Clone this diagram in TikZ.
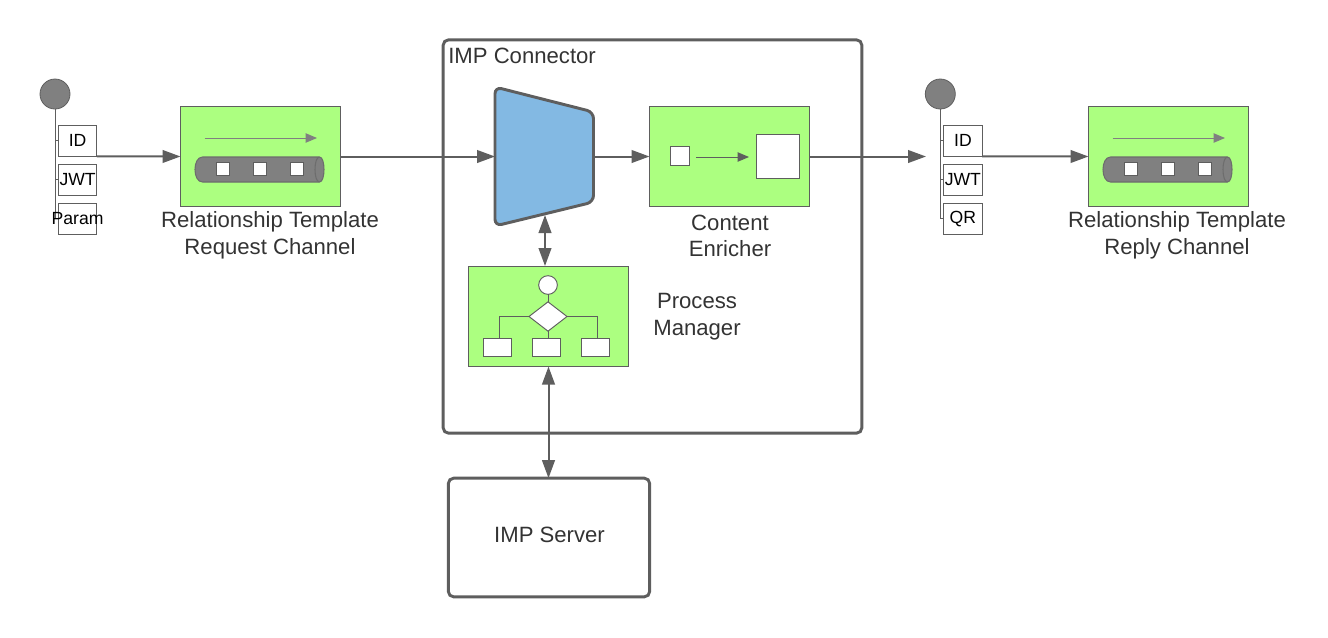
\documentclass[tikz,border=0pt]{standalone}
\usepackage{fontspec}
\setmainfont{Liberation Sans}
\usetikzlibrary{arrows.meta,shapes.geometric}
\definecolor{linegray}{HTML}{5E5E5E}
\definecolor{pipegray}{HTML}{808080}
\definecolor{textgray}{HTML}{333333}
\definecolor{eipgreen}{HTML}{ACFF80}
\definecolor{routerblue}{HTML}{83B9E3}
\tikzset{
  flow/.style={draw=linegray,line width=1.5pt,-{Triangle[length=13.5pt,width=9.5pt]}},
  biflow/.style={draw=linegray,line width=1.5pt,{Triangle[length=13.5pt,width=9.5pt]}-{Triangle[length=13.5pt,width=9.5pt]}},
  eipbox/.style={draw=linegray,line width=.8pt,fill=eipgreen,minimum width=120pt,minimum height=75pt,inner sep=0pt,outer sep=0pt},
  tagbox/.style={draw=linegray,line width=.6pt,fill=white,minimum width=28.8pt,minimum height=23.5pt,inner sep=0pt,outer sep=0pt,font=\fontsize{13.2}{15}\selectfont},
  whitebox/.style={draw=linegray,line width=.7pt,fill=white,inner sep=0pt,outer sep=0pt},
  holder/.style={circle,draw=linegray,line width=.6pt,fill=pipegray,minimum size=22.5pt,inner sep=0pt,outer sep=0pt},
  label/.style={align=center,text=textgray,inner sep=0pt,font=\fontsize{16.6}{20}\selectfont},
  container/.style={draw=linegray,line width=2.2pt,rounded corners=4pt,inner sep=0pt,outer sep=0pt},
  thinline/.style={draw=linegray,line width=.7pt},
}
\begin{document}
\begin{tikzpicture}[x=.75pt,y=-.75pt]
  \useasboundingbox (0,0) rectangle (1328,637);
  % outer boxes
  \node[container,minimum width=314pt,minimum height=295pt] (connector) at (652.5,236.5) {};
  \node[label,anchor=west] (connectorlabel) at (448,56) {IMP Connector};
  \node[container,minimum width=151pt,minimum height=89pt] (server) at (549,537.5) {};
  \node[label] (serverlabel) at (549.5,535) {IMP Server};
  % channels
  \foreach \chan/\cx in {req/260.5,rep/1168.5} {
    \begin{scope}[shift={(\cx,156.5)}]
      \node[eipbox] (\chan box) at (0,0) {};
      \draw[draw=pipegray,line width=.7pt,-{Triangle[length=8.5pt,width=7pt]}] (-56,-18.5) -- (56.5,-18.5);
      \draw[draw=pipegray!85!black,fill=pipegray,line width=.8pt]
        (-58,.5) -- (59,.5) .. controls (65,.5) and (65,25.5) .. (59,25.5)
        -- (-58,25.5) .. controls (-68,25.5) and (-68,.5) .. (-58,.5) -- cycle;
      \draw[draw=pipegray!85!black,line width=.8pt] (59,.5) .. controls (53,.5) and (53,25.5) .. (59,25.5);
      \foreach \sx in {-37.5,-0.5,36.5}
        \node[whitebox,minimum size=9.5pt,line width=.5pt] at (\sx,12.5) {};
    \end{scope}
  }
  \node[label] (reqlabel) at (270,235.5) {Relationship Template\\Request Channel};
  \node[label] (replabel) at (1177,235.5) {Relationship Template\\Reply Channel};
  % message with its tags
  \foreach \msg/\mx/\last/\ltext in {a/55/param/\makebox[0pt]{Param},b/940.3/qr/QR} {
    \begin{scope}[shift={(\mx,0)}]
      \node[holder] (\msg head) at (0,94) {};
      \draw[thinline] (\msg head.south) -- (0,218) -- (3,218) (0,179) -- (3,179) (0,140) -- (3,140);
      \node[tagbox] (\msg id) at (22.6,140.8) {ID};
      \node[tagbox] (\msg jwt) at (22.6,179.8) {JWT};
      \node[tagbox] (\msg last) at (22.6,218.8) {\ltext};
    \end{scope}
  }
  % router
  \node[minimum width=73.5pt,minimum height=104pt,inner sep=0pt,outer sep=0pt] (router) at (544,156.5) {};
  \draw[draw=linegray,fill=routerblue,line width=2.2pt,rounded corners=5pt]
    (495,87) -- (593.5,112) -- (593.5,202) -- (495,226) -- cycle;
  \coordinate (routerbottom) at (545,215);
  % enricher
  \node[eipbox] (enricher) at (729.5,156.5) {};
  \node[whitebox,minimum size=14.5pt] (small) at (680,156) {};
  \node[whitebox,minimum size=32.5pt] (large) at (778,156.3) {};
  \draw[thinline,-{Triangle[length=8.5pt,width=7pt]}] (696,157) -- (749,157);
  \node[label] (enricherlabel) at (730,236) {Content\\Enricher};
  % process manager
  \node[eipbox] (manager) at (548.5,316.5) {};
  \node[whitebox,circle,minimum size=14pt] (start) at (548,285) {};
  \node[whitebox,diamond,minimum width=28.5pt,minimum height=22pt] (choice) at (548,316.5) {};
  \node[whitebox,minimum width=21.5pt,minimum height=14pt] (task1) at (497.5,347.5) {};
  \node[whitebox,minimum width=21.5pt,minimum height=14pt] (task2) at (546.5,347.5) {};
  \node[whitebox,minimum width=21.5pt,minimum height=14pt] (task3) at (595.5,347.5) {};
  \draw[thinline] (start) -- (choice);
  \draw[thinline] (choice.west) -| (499.5,338);
  \draw[thinline] (choice.south) -- (548,338);
  \draw[thinline] (choice.east) -| (597,338);
  \node[label] (managerlabel) at (697,317) {Process\\Manager};
  % free end of the enricher line
  \coordinate (replyin) at (926,156.5);
  \begin{scope}[flow]
    \draw (aid.south east) to (reqbox);
    \draw (reqbox) to (router);
    \draw (router.east) to (enricher);
    \draw (enricher) to (replyin);
    \draw (bid.south east) to (repbox);
  \end{scope}
  \draw[biflow] (routerbottom) to (545,266);
  \draw[biflow] (manager.south) to (server.north -| manager.south);
\end{tikzpicture}
\end{document}
